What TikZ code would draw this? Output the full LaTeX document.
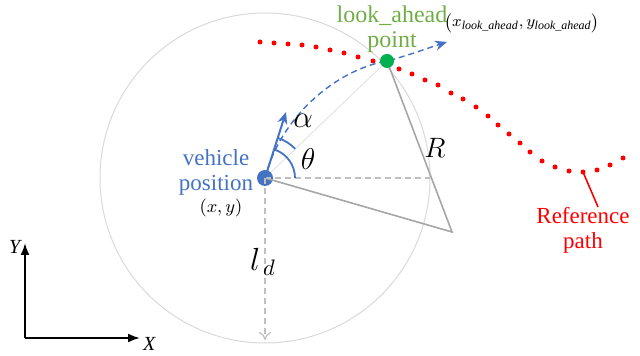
\RequirePackage{fix-cm}
\documentclass[tikz,border=0pt]{standalone}
\usepackage{amsmath}
\usepackage{fontspec}
\setmainfont{Liberation Serif}
\usetikzlibrary{arrows.meta}
\definecolor{vblue}{RGB}{68,114,196}
\definecolor{lgreen}{RGB}{112,173,71}
\definecolor{dgreen}{RGB}{0,176,80}
\definecolor{lgray}{RGB}{217,217,217}
\definecolor{mgray}{RGB}{166,166,166}
\definecolor{dgray}{RGB}{191,191,191}
\tikzset{
  lbl/.style={font=\fontsize{#1}{12.5}\selectfont, inner sep=0pt, align=center},
  lbl/.default=11.5,
  sym/.style={font=\fontsize{#1}{#1}\selectfont, inner sep=0pt},
  gdash/.style={dgray, line width=0.6pt, dash pattern=on 3pt off 2pt}
}
\begin{document}
\begin{tikzpicture}[x=0.5pt,y=-0.5pt]
  \useasboundingbox (0,0) rectangle (640,356);
  \coordinate (V) at (265,178); \coordinate (G) at (387,61); \coordinate (ctr) at (452,232);
  \coordinate (hx) at (430,178); \coordinate (ld) at (265,340); \coordinate (head) at (286,112);
  \coordinate (fwd) at (447,42); \coordinate (rp) at (583,172); \coordinate (rptip) at (598,207);
  \draw[lgray, line width=0.5pt] (V) circle[radius=165];
  \draw[lgray!70, line width=0.5pt] (V) -- (G);
  % reference path
  \foreach \p in {(260,42),(274,43),(288,44),(302,45),(316,47),(330,50),(344,53),(358,57),(373,61),
    (399,69),(412,74),(425,80),(438,85),(451,93),(463,99),(476,107),(488,116),(498,125),
    (509,134),(520,143),(530,152),(542,161),(555,167),(569,171),(583,172),(597,170),(610,165),(623,158)}
    \fill[red] \p circle[radius=2.5];
  \draw[red, line width=0.8pt] (rp) -- (rptip);
  \node[lbl, red] (ref) at (583,230) {Reference\\path};
  % vehicle and look ahead point
  \node[circle, fill=vblue, minimum size=8pt, inner sep=0pt] (veh) at (V) {};
  \draw[mgray, line width=0.8pt] (G) -- (ctr) -- (V);
  \draw[gdash] (V) -- (hx); \draw[gdash, -{To[length=4pt,width=6pt]}] (V) -- (ld);
  \draw[vblue, line width=0.7pt, dash pattern=on 3pt off 2pt, -{Stealth[length=6pt,width=5pt]}]
    (V) .. controls (280,118) and (335,70) .. (G) .. controls (410,55) and (428,48) .. (fwd);
  \draw[vblue, line width=1pt, -{Stealth[length=6pt,width=5pt]}] (V) -- (head);
  \draw[vblue, line width=0.9pt] ([shift={(0:30)}]V) arc[start angle=0, end angle=-72, radius=30];
  \draw[vblue, line width=0.9pt] ([shift={(-44:42)}]V) arc[start angle=-44, end angle=-72, radius=42];
  \node[circle, fill=dgreen, minimum size=7pt, inner sep=0pt] (look) at (G) {};
  % labels
  \node[lbl, vblue] (vpos) at (216,172) {vehicle\\position};
  \node[sym=9] (vxy) at (221,208) {$(x,y)$};
  \node[lbl=12, lgreen] (lpt) at (392,29) {look\_ahead\\point};
  \node[sym=8, anchor=west] (lxy) at (444,23) {$\bigl(x_{\textit{look\_ahead}},y_{\textit{look\_ahead}}\bigr)$};
  \node[sym=15.5] (alph) at (303,121) {$\alpha$};
  \node[sym=15] (thet) at (308,159) {$\theta$};
  \node[sym=14] (rad) at (435,148) {$R$};
  \node[sym=16] (ldl) at (263,262) {$l_{\,d}$};
  % frame
  \coordinate (O) at (25,338);
  \draw[line width=1pt, -{Latex[length=6pt,width=4.5pt]}] (O) -- (140,338) node[sym=10, right=1pt, yshift=-3pt] (xl) {\textit{X}};
  \draw[line width=1pt, -{Latex[length=6pt,width=4.5pt]}] (O) -- (25,243) node[sym=10, left=1pt, yshift=-2pt] (yl) {\textit{Y}};
\end{tikzpicture}
\end{document}
